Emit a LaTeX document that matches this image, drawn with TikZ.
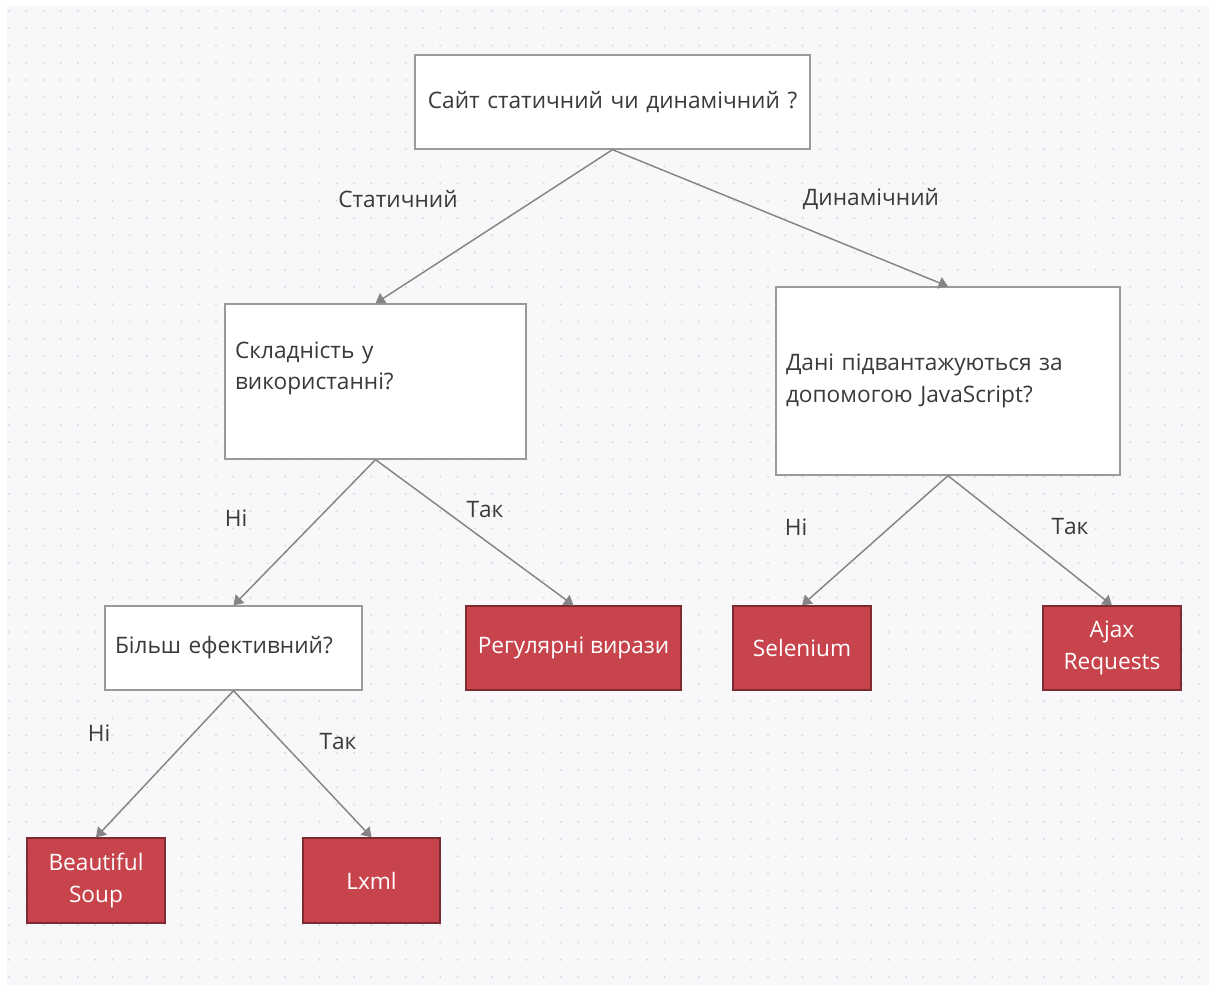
\documentclass[tikz,border=0pt]{standalone}
\usepackage{fontspec}
\setmainfont{Open Sans}
\usepackage{tikz}
\usetikzlibrary{arrows.meta}
\definecolor{bgcol}{HTML}{F8F8FA}
\definecolor{dotcol}{HTML}{DADADF}
\definecolor{boxline}{HTML}{9A9A9A}
\definecolor{txtcol}{HTML}{3A3A3A}
\definecolor{toolred}{HTML}{C8444D}
\definecolor{tooldark}{HTML}{7E2A31}
\definecolor{edgecol}{HTML}{858585}
\tikzstyle{question}=[draw=boxline,fill=white,line width=1pt,text=txtcol,inner xsep=7.5pt,inner ysep=0pt,font=\fontsize{17}{23.5}\selectfont]
\tikzstyle{tool}=[draw=tooldark,fill=toolred,line width=1pt,text=white,align=center,inner sep=0pt,minimum height=63pt,font=\fontsize{17}{23.5}\selectfont]
\tikzstyle{edge}=[draw=edgecol,line width=1.1pt,-{Triangle[length=7pt,width=9pt]}]
\tikzstyle{branch}=[text=txtcol,font=\fontsize{17}{23.5}\selectfont]

\begin{document}
\begin{tikzpicture}[x=0.75pt,y=-0.75pt]

    \useasboundingbox (0,0) rectangle (1209,985);
    \fill[bgcol] (7,6) rectangle (1209,985);
    \foreach \i in {0,...,69}
        \foreach \j in {0,...,56}
            \fill[dotcol] (9+17.25*\i, 11+17.25*\j) circle (0.8pt);

    % questions
    \node[question, text width=281.25pt, minimum height=70.5pt, align=center] (site) at (612.5,102) {Сайт статичний чи динамічний ?};
    \node[question, text width=210.75pt, minimum height=116.25pt, align=left] (usage) at (375.5,381.5) {Складність у\\ використанні?\\ \mbox{}};
    \node[question, text width=243pt, minimum height=141pt, align=left] (js) at (948,381) {Дані підвантажуються за\\ допомогою JavaScript?};
    \node[question, text width=177.75pt, minimum height=63pt, align=left] (eff) at (233.5,648) {Більш ефективний?};

    % tools
    \node[tool, minimum width=161.25pt] (regex) at (573.5,648) {Регулярні вирази};
    \node[tool, minimum width=103.5pt] (selenium) at (802,648) {Selenium};
    \node[tool, minimum width=103.5pt] (ajax) at (1112,648) {Ajax\\ Requests};
    \node[tool, minimum width=103.5pt, minimum height=63.75pt] (bsoup) at (96,880.5) {Beautiful\\ Soup};
    \node[tool, minimum width=102.75pt, minimum height=63.75pt] (lxml) at (371.5,880.5) {Lxml};

    \foreach \source/\dest in {site/usage, site/js, usage/eff, usage/regex, js/selenium, js/ajax, eff/bsoup, eff/lxml}
        \path[edge] (\source.south) -- (\dest.north);

    % answers
    \foreach \pos/\name/\txt in {{(398,199)/static/Статичний}, {(871,199)/dynamic/Динамічний},
            {(236,518)/usageno/Ні}, {(485,510)/usageyes/Так}, {(796,527)/jsno/Ні},
            {(1070,527)/jsyes/Так}, {(99,733)/effno/Ні}, {(338,742)/effyes/Так}}
        \node[branch] (\name) at \pos {\txt};

\end{tikzpicture}
\end{document}
